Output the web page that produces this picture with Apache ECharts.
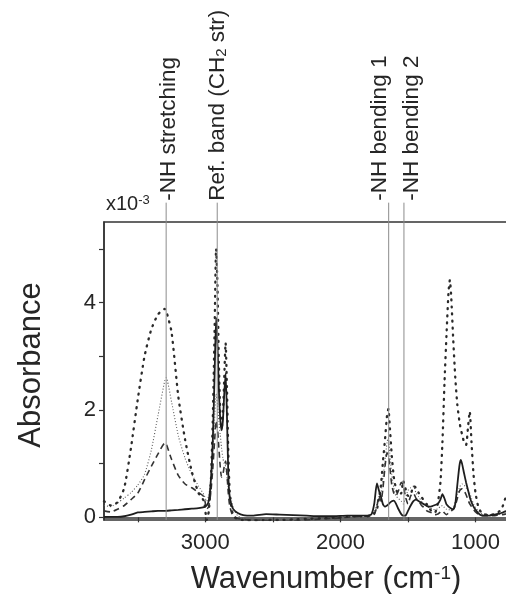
<!DOCTYPE html>
<html>
<head>
<meta charset="utf-8">
<title>Absorbance spectra</title>
<script src="https://cdn.jsdelivr.net/npm/echarts@6/dist/echarts.min.js"></script>
<style>
	html, body { margin: 0; padding: 0; background: #ffffff; }
	.r_chart { width: 506px; height: 594px; }
</style>
</head>
<body>
<div class="r_chart"></div>
<script>
/**
 * 数据
 * */
//波数 (cm-1)
var wavenumber = [
	3750, 3700, 3650, 3600, 3550, 3500, 3450, 3400, 3350, 3300, 3290, 3250, 3200, 3150, 3100, 3050,
	3010, 2990, 2975, 2960, 2945, 2932, 2920, 2910, 2900, 2890, 2880, 2870, 2860, 2850, 2840, 2830,
	2820, 2805, 2790, 2760, 2720, 2650, 2550, 2450, 2350, 2250, 2150, 2050, 1950, 1850, 1800, 1770,
	1750, 1730, 1715, 1700, 1685, 1670, 1655, 1645, 1635, 1620, 1605, 1590, 1570, 1550, 1535, 1520,
	1500, 1480, 1460, 1440, 1420, 1400, 1380, 1360, 1340, 1320, 1300, 1280, 1260, 1245, 1230, 1215,
	1200, 1190, 1180, 1165, 1150, 1135, 1120, 1110, 1100, 1085, 1070, 1055, 1043, 1030, 1015, 1000,
	980, 960, 940, 920, 900, 880, 860, 840, 820, 800, 780, 760
];
//实线
var absSolid = [
	0.01, 0.01, 0.01, 0.02, 0.05, 0.09, 0.10, 0.11, 0.12, 0.12, 0.12, 0.13, 0.14, 0.15, 0.16, 0.17,
	0.19, 0.22, 0.30, 0.65, 1.40, 2.60, 3.72, 3.20, 2.40, 1.85, 1.62, 1.80, 2.30, 2.68, 1.90, 0.80,
	0.38, 0.22, 0.14, 0.08, 0.04, 0.03, 0.06, 0.05, 0.04, 0.03, 0.02, 0.02, 0.03, 0.03, 0.03, 0.06,
	0.25, 0.63, 0.50, 0.38, 0.24, 0.20, 0.22, 0.24, 0.27, 0.30, 0.31, 0.26, 0.15, 0.06, 0.03, 0.03,
	0.12, 0.22, 0.30, 0.33, 0.30, 0.27, 0.24, 0.21, 0.20, 0.21, 0.23, 0.25, 0.33, 0.43, 0.35, 0.24,
	0.20, 0.18, 0.16, 0.15, 0.25, 0.60, 0.95, 1.07, 1.00, 0.82, 0.65, 0.50, 0.38, 0.28, 0.20, 0.14,
	0.08, 0.04, 0.03, 0.03, 0.03, 0.04, 0.05, 0.06, 0.07, 0.09, 0.11, 0.12
];
//虚线
var absDashed = [
	0.12, 0.10, 0.15, 0.22, 0.33, 0.45, 0.70, 0.95, 1.18, 1.38, 1.37, 1.08, 0.78, 0.62, 0.55, 0.46,
	0.38, 0.15, 0.20, 0.45, 0.90, 1.40, 1.80, 1.65, 1.30, 0.95, 0.75, 0.80, 0.95, 1.05, 0.80, 0.45,
	0.22, 0.08, 0.02, -0.02, -0.04, -0.05, -0.06, -0.08, -0.07, -0.05, -0.03, -0.02, 0.00, 0.02, 0.02, 0.03,
	0.05, 0.20, 0.40, 0.30, 0.55, 0.95, 1.20, 1.15, 0.95, 0.60, 0.45, 0.40, 0.50, 0.65, 0.60, 0.40,
	0.25, 0.40, 0.45, 0.35, 0.30, 0.22, 0.18, 0.12, 0.10, 0.08, 0.05, 0.06, 0.10, 0.12, 0.08, 0.05,
	0.08, 0.10, 0.12, 0.15, 0.22, 0.35, 0.48, 0.52, 0.53, 0.50, 0.42, 0.32, 0.25, 0.20, 0.15, 0.10,
	0.06, 0.04, 0.03, 0.03, 0.03, 0.03, 0.03, 0.04, 0.04, 0.05, 0.06, 0.07
];
//细点线
var absFineDot = [
	0.22, 0.20, 0.27, 0.36, 0.46, 0.60, 0.80, 1.25, 1.90, 2.55, 2.60, 2.15, 1.52, 1.10, 0.80, 0.58,
	0.42, 0.30, 0.40, 0.70, 1.20, 1.80, 2.30, 2.10, 1.80, 1.55, 1.30, 1.10, 1.00, 0.95, 0.75, 0.55,
	0.42, 0.30, 0.15, 0.03, -0.02, -0.04, -0.04, -0.05, -0.04, -0.03, -0.02, 0.00, 0.01, 0.02, 0.03, 0.05,
	0.10, 0.25, 0.35, 0.45, 0.75, 1.05, 1.40, 1.48, 1.20, 0.80, 0.55, 0.40, 0.35, 0.30, 0.25, 0.35,
	0.50, 0.55, 0.58, 0.45, 0.38, 0.30, 0.25, 0.20, 0.18, 0.15, 0.14, 0.16, 0.20, 0.22, 0.18, 0.15,
	0.14, 0.14, 0.16, 0.20, 0.30, 0.42, 0.55, 0.60, 0.62, 0.60, 0.55, 0.50, 0.45, 0.35, 0.25, 0.18,
	0.12, 0.08, 0.06, 0.05, 0.05, 0.05, 0.05, 0.06, 0.07, 0.08, 0.10, 0.12
];
//粗点线
var absSparseDot = [
	0.30, 0.22, 0.28, 0.55, 1.30, 2.20, 3.00, 3.50, 3.78, 3.88, 3.85, 3.45, 2.25, 1.45, 0.85, 0.45,
	0.30, -0.05, 0.10, 0.60, 1.80, 3.40, 5.00, 4.30, 2.90, 2.00, 1.65, 1.90, 2.60, 3.25, 2.40, 1.20,
	0.50, 0.15, 0.02, -0.04, -0.05, -0.06, -0.05, -0.05, -0.04, -0.03, -0.02, -0.01, 0.01, 0.02, 0.02, 0.04,
	0.08, 0.15, 0.35, 0.60, 1.05, 1.45, 1.90, 2.02, 1.70, 1.15, 0.75, 0.55, 0.42, 0.45, 0.68, 0.55,
	0.40, 0.42, 0.58, 0.55, 0.45, 0.38, 0.30, 0.24, 0.16, 0.10, 0.09, 0.25, 0.65, 1.40, 2.50, 3.40,
	4.20, 4.42, 4.10, 3.30, 2.60, 2.10, 1.80, 1.65, 1.55, 1.40, 1.35, 1.70, 1.97, 1.40, 0.80, 0.45,
	0.20, 0.10, 0.06, 0.05, 0.05, 0.05, 0.06, 0.08, 0.12, 0.20, 0.35, 0.42
];
//谱带标注
var bandPositions = [3290, 2912, 1643, 1530];
var bandLabels = ['-NH stretching', 'Ref. band (CH{sub|2} str)', '-NH bending 1', '-NH bending 2'];
//刻度
var xTickValues = [1000, 1500, 2000, 2500, 3000, 3500];
var xLabelValues = [1000, 2000, 3000];
var yTickValues = [0, 1, 2, 3, 4, 5];
var yLabelValues = [0, 2, 4];

/**
 * 样式
 * */
var font = '"Liberation Sans", Arial, sans-serif';
var ink = '#262626';
//标注文字相对竖线的偏移
var labelShift = [3, 1, -9, 8];

function pairs(values) {
	return wavenumber.map(function(w, i) {
		return [w, values[i]];
	});
}

var option = {
	animation: false,
	backgroundColor: '#ffffff',
	title: {
		text: 'x10{sup|-3}',
		left: 101,
		top: 189,
		textStyle: {
			fontFamily: font,
			fontSize: 20,
			fontWeight: 'normal',
			color: ink,
			rich: {
				sup: { fontFamily: font, fontSize: 13, color: ink, verticalAlign: 'top', lineHeight: 12 }
			}
		}
	},
	grid: {
		left: 104,
		right: -4,
		top: 222,
		bottom: 74,
		outerBoundsMode: 'none',
		containLabel: false,
		show: true,
		borderColor: '#333',
		borderWidth: 1.5
	},
	xAxis: {
		type: 'value',
		inverse: true,
		min: 745,
		max: 3750,
		name: 'Wavenumber (cm{sup|-1})',
		nameLocation: 'middle',
		nameGap: 44,
		nameTextStyle: {
			fontFamily: font,
			fontSize: 31,
			color: ink,
			padding: [0, 0, 0, 38],
			rich: {
				sup: { fontFamily: font, fontSize: 19, color: ink, verticalAlign: 'top', lineHeight: 16 }
			}
		},
		axisLine: { lineStyle: { color: '#333', width: 1.5 } },
		axisTick: { customValues: xTickValues, length: 5, lineStyle: { color: '#333', width: 1.2 } },
		axisLabel: {
			customValues: xLabelValues,
			fontFamily: font,
			fontSize: 22,
			color: ink,
			margin: 12,
			formatter: function(v) { return String(v); }
		},
		splitLine: { show: false }
	},
	yAxis: {
		type: 'value',
		min: -0.05,
		max: 5.5,
		name: 'Absorbance',
		nameLocation: 'middle',
		nameGap: 57,
		nameTextStyle: { fontFamily: font, fontSize: 31, color: ink, padding: [0, 0, 0, 12] },
		axisLine: { show: true, lineStyle: { color: '#333', width: 1.5 } },
		axisTick: { customValues: yTickValues, length: 5, lineStyle: { color: '#333', width: 1.2 } },
		axisLabel: {
			customValues: yLabelValues,
			fontFamily: font,
			fontSize: 22,
			color: ink,
			margin: 8,
			formatter: function(v) { return String(v); }
		},
		splitLine: { show: false }
	},
	series: [{
		name: 'fine dotted',
		type: 'line',
		data: pairs(absFineDot),
		showSymbol: false,
		smooth: 0.2,
		lineStyle: { color: '#5a5a5a', width: 1.1, type: [1, 2] },
		z: 2
	}, {
		name: 'dashed',
		type: 'line',
		data: pairs(absDashed),
		showSymbol: false,
		smooth: 0.2,
		lineStyle: { color: '#333', width: 1.6, type: [6, 4] },
		z: 3
	}, {
		name: 'dotted',
		type: 'line',
		data: pairs(absSparseDot),
		showSymbol: false,
		smooth: 0.2,
		lineStyle: { color: '#2a2a2a', width: 2.3, type: [1, 6], cap: 'round' },
		z: 3
	}, {
		name: 'solid',
		type: 'line',
		data: pairs(absSolid),
		showSymbol: false,
		smooth: 0.2,
		lineStyle: { color: '#1e1e1e', width: 1.8 },
		z: 4
	}, {
		//谱带竖线与标注
		name: 'bands',
		type: 'custom',
		clip: false,
		silent: true,
		z: 5,
		data: bandPositions.map(function(w, i) { return [w, i]; }),
		encode: { x: 0, y: 1 },
		renderItem: function(params, api) {
			var w = api.value(0);
			var i = api.value(1);
			var bottom = api.coord([w, -0.05]);
			var top = api.coord([w, 5.86]);
			return {
				type: 'group',
				children: [{
					type: 'line',
					shape: { x1: bottom[0], y1: bottom[1], x2: top[0], y2: top[1] },
					style: { stroke: '#8c8c8c', lineWidth: 1 }
				}, {
					type: 'text',
					x: top[0] + labelShift[i],
					y: top[1] - 2,
					rotation: Math.PI / 2,
					style: {
						text: bandLabels[i],
						fontFamily: font,
						fontSize: 22.5,
						fill: ink,
						align: 'left',
						verticalAlign: 'middle',
						rich: {
							sub: { fontFamily: font, fontSize: 15, fill: ink, verticalAlign: 'bottom', lineHeight: 12, padding: [8, 0, 0, 0] }
						}
					}
				}]
			};
		}
	}]
};

var myChart = echarts.init(document.querySelector('.r_chart'), null, { renderer: 'canvas' });
myChart.setOption(option);
</script>
</body>
</html>
